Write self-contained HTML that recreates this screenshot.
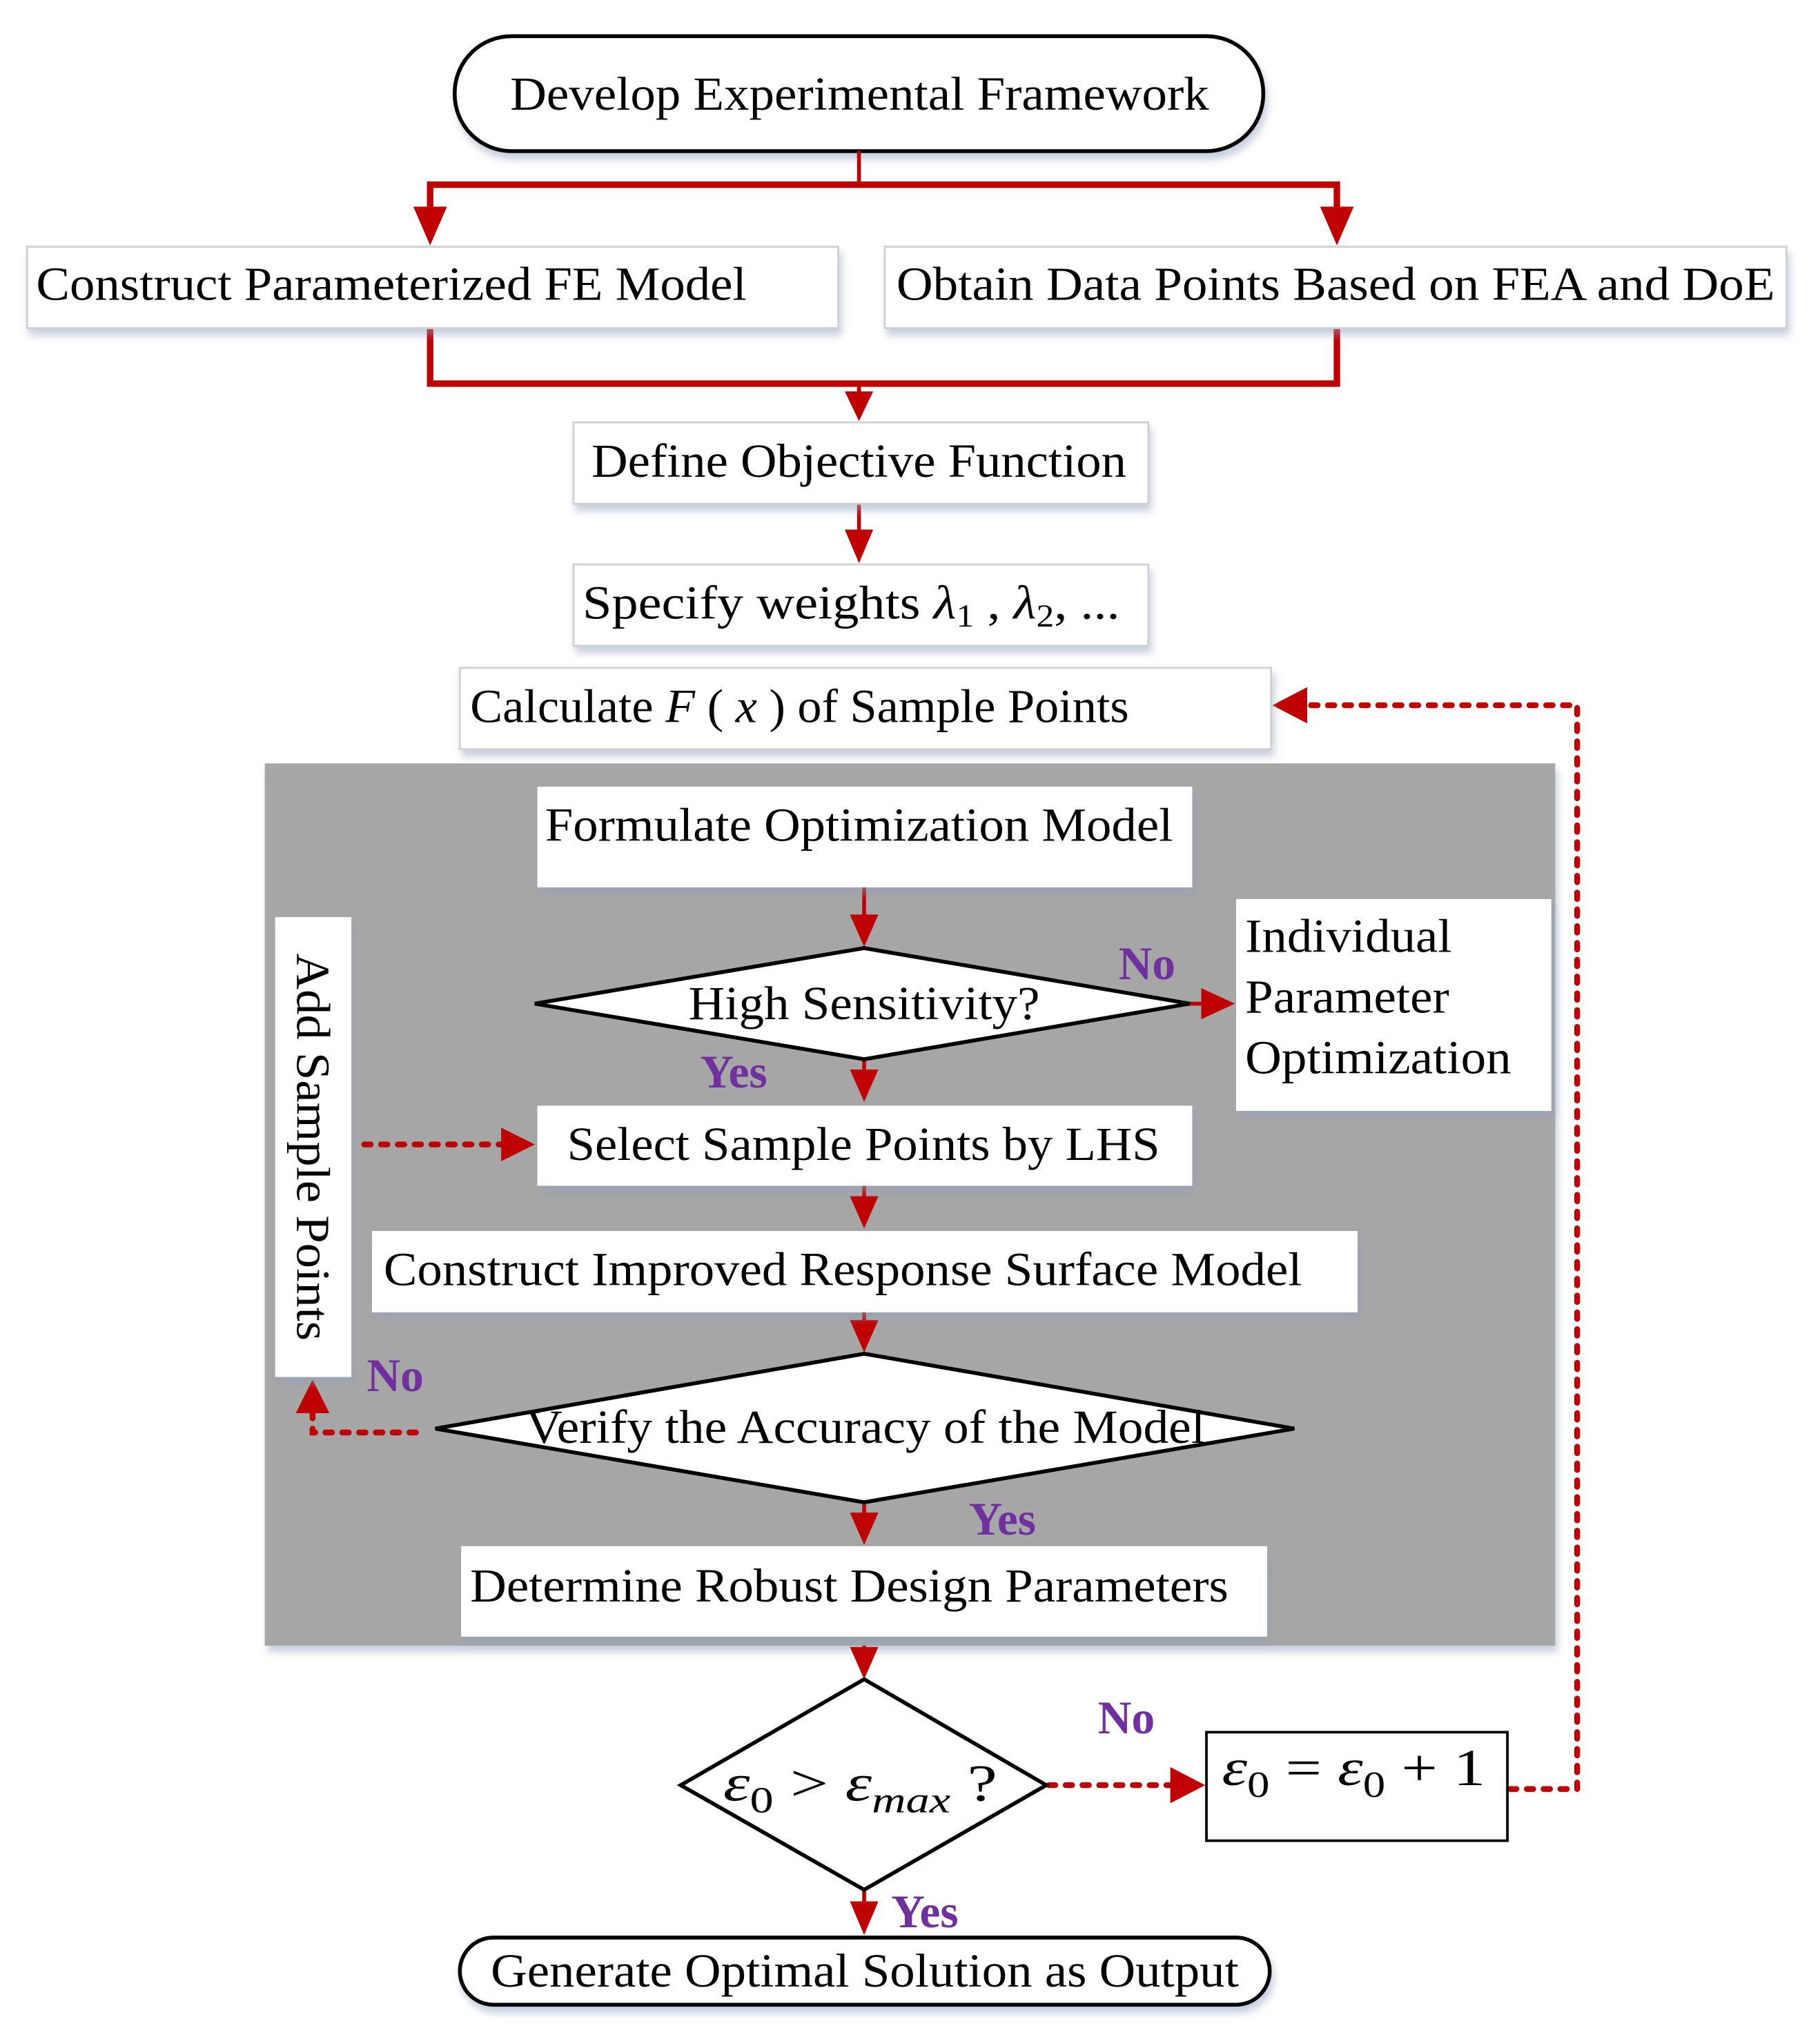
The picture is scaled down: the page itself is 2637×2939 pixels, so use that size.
<!DOCTYPE html>
<html><head><meta charset="utf-8"><style>
html,body{margin:0;padding:0;background:#fff}
svg{display:block}
text{font-family:"Liberation Serif",serif;fill:#000}
.p{fill:#7030a0;font-weight:bold;font-size:36px}
</style></head><body>
<svg width="2637" height="2939" viewBox="0 0 1409 1570" preserveAspectRatio="none" xmlns="http://www.w3.org/2000/svg">
<defs>
<filter id="s" x="-5%" y="-10%" width="115%" height="140%"><feDropShadow dx="2" dy="5" stdDeviation="3" flood-color="#8ea0c0" flood-opacity="0.5"/></filter>
</defs>
<rect x="205" y="591" width="999" height="683" fill="#a6a6a6" filter="url(#s)"/>

<rect x="352" y="28" width="626" height="89" rx="44" fill="#fff" stroke="#000" stroke-width="3" filter="url(#s)"/>
<text x="395" y="85" font-size="37" textLength="541" lengthAdjust="spacingAndGlyphs">Develop Experimental Framework</text>

<g stroke="#c00000" fill="none">
<line x1="665" y1="117" x2="665" y2="143" stroke-width="3"/>
<polyline points="333,166 333,143 1035,143 1035,166" stroke-width="5"/>
<polyline points="333,254 333,297 1035,297 1035,254" stroke-width="5"/>
<line x1="665" y1="297" x2="665" y2="310" stroke-width="3"/>
<line x1="665" y1="390" x2="665" y2="420" stroke-width="3"/>
<line x1="669" y1="687" x2="669" y2="718" stroke-width="3"/>
<line x1="921" y1="777" x2="940" y2="777" stroke-width="3"/>
<line x1="669" y1="820" x2="669" y2="838" stroke-width="3"/>
<line x1="669" y1="918" x2="669" y2="935" stroke-width="3"/>
<line x1="669" y1="1016" x2="669" y2="1032" stroke-width="3"/>
<line x1="669" y1="1163" x2="669" y2="1180" stroke-width="3"/>
<line x1="669" y1="1274" x2="669" y2="1285" stroke-width="3"/>
<line x1="669" y1="1463" x2="669" y2="1482" stroke-width="3"/>
<g stroke-width="4.5" stroke-dasharray="5,8" stroke-linecap="round">
<line x1="282" y1="886" x2="395" y2="886"/>
<polyline points="322,1109 242,1109 242,1088"/>
<line x1="812" y1="1382" x2="912" y2="1382"/>
<polyline points="1169,1385 1221,1385 1221,546 1008,546"/>
</g>
</g>
<g fill="#c00000">
<path d="M320,160 L346,160 L333,190 Z"/>
<path d="M1022,160 L1048,160 L1035,190 Z"/>
<path d="M654,303 L676,303 L665,326 Z"/>
<path d="M654,410 L676,410 L665,436 Z"/>
<path d="M658,708 L680,708 L669,733 Z"/>
<path d="M930,765 L930,789 L956,777 Z"/>
<path d="M658,828 L680,828 L669,853 Z"/>
<path d="M388,873 L388,899 L414,886 Z"/>
<path d="M658,926 L680,926 L669,951 Z"/>
<path d="M658,1022 L680,1022 L669,1047 Z"/>
<path d="M229,1094 L255,1094 L242,1068 Z"/>
<path d="M658,1171 L680,1171 L669,1196 Z"/>
<path d="M658,1275 L680,1275 L669,1300 Z"/>
<path d="M906,1368 L906,1396 L933,1382 Z"/>
<path d="M1012,532 L1012,560 L985,546 Z"/>
<path d="M658,1472 L680,1472 L669,1498 Z"/>
</g>

<g fill="#fff" stroke="#d0d0d0" stroke-width="1.5" filter="url(#s)">
<rect x="21" y="191" width="628" height="63"/>
<rect x="685" y="191" width="698" height="63"/>
<rect x="444" y="327" width="445" height="63"/>
<rect x="444" y="437" width="445" height="63"/>
<rect x="356" y="517" width="628" height="63"/>
<rect x="416" y="609" width="507" height="78" stroke="none"/>
<rect x="957" y="696" width="244" height="164" stroke="none"/>
<rect x="416" y="856" width="507" height="62" stroke="none"/>
<rect x="213" y="710" width="59" height="356" stroke="none"/>
<rect x="288" y="953" width="763" height="63" stroke="none"/>
<rect x="357" y="1197" width="624" height="70" stroke="none"/>
</g>
<polygon points="414,777 669,734 921,777 669,820" fill="#fff" stroke="#000" stroke-width="3"/>
<polygon points="337,1106 669,1048 1002,1106 669,1163" fill="#fff" stroke="#000" stroke-width="3"/>
<polygon points="527,1382 669,1300 810,1382 669,1463" fill="#fff" stroke="#000" stroke-width="3"/>
<rect x="934" y="1341" width="233" height="84" fill="#fff" stroke="#000" stroke-width="2"/>
<rect x="356" y="1500" width="627" height="52" rx="26" fill="#fff" stroke="#000" stroke-width="3" filter="url(#s)"/>

<g font-size="37">
<text x="28" y="232" textLength="550" lengthAdjust="spacingAndGlyphs">Construct Parameterized FE Model</text>
<text x="694" y="232" textLength="680" lengthAdjust="spacingAndGlyphs">Obtain Data Points Based on FEA and DoE</text>
<text x="458" y="369" textLength="414" lengthAdjust="spacingAndGlyphs">Define Objective Function</text>
<text x="451" y="479" textLength="416" lengthAdjust="spacingAndGlyphs">Specify weights <tspan font-style="italic">λ</tspan><tspan font-size="25" dy="6">1</tspan><tspan dy="-6"> , </tspan><tspan font-style="italic">λ</tspan><tspan font-size="25" dy="6">2</tspan><tspan dy="-6">, ...</tspan></text>
<text x="364" y="559" textLength="510" lengthAdjust="spacingAndGlyphs">Calculate <tspan font-style="italic">F</tspan> ( <tspan font-style="italic">x</tspan> ) of Sample Points</text>
<text x="422" y="651" textLength="486" lengthAdjust="spacingAndGlyphs">Formulate Optimization Model</text>
<text x="533" y="789" textLength="272" lengthAdjust="spacingAndGlyphs">High Sensitivity?</text>
<text x="964" y="737" textLength="160" lengthAdjust="spacingAndGlyphs">Individual</text>
<text x="964" y="784" textLength="158" lengthAdjust="spacingAndGlyphs">Parameter</text>
<text x="964" y="831" textLength="206" lengthAdjust="spacingAndGlyphs">Optimization</text>
<text x="439" y="898" textLength="459" lengthAdjust="spacingAndGlyphs">Select Sample Points by LHS</text>
<text x="297" y="995" textLength="711" lengthAdjust="spacingAndGlyphs">Construct Improved Response Surface Model</text>
<text x="407" y="1117" textLength="526" lengthAdjust="spacingAndGlyphs">Verify the Accuracy of the Model</text>
<text x="364" y="1240" textLength="587" lengthAdjust="spacingAndGlyphs">Determine Robust Design Parameters</text>
<text x="380" y="1538" textLength="579" lengthAdjust="spacingAndGlyphs">Generate Optimal Solution as Output</text>
<text transform="translate(230,738) rotate(90)" textLength="300" lengthAdjust="spacingAndGlyphs">Add Sample Points</text>
<text x="560" y="1394" font-family="DejaVu Serif, serif" font-size="40" font-style="italic" textLength="212" lengthAdjust="spacingAndGlyphs">ε<tspan font-size="28" dy="9" font-style="normal">0</tspan><tspan dy="-9" font-style="normal"> &gt; </tspan>ε<tspan font-size="28" dy="9">max</tspan><tspan dy="-9" font-style="normal">  ?</tspan></text>
<text x="946" y="1382" font-family="DejaVu Serif, serif" font-size="40" textLength="204" lengthAdjust="spacingAndGlyphs"><tspan font-style="italic">ε</tspan><tspan font-size="28" dy="9">0</tspan><tspan dy="-9"> = </tspan><tspan font-style="italic">ε</tspan><tspan font-size="28" dy="9">0</tspan><tspan dy="-9"> + 1</tspan></text>
</g>
<text class="p" x="866" y="758">No</text>
<text class="p" x="542" y="842">Yes</text>
<text class="p" x="284" y="1077">No</text>
<text class="p" x="750" y="1188">Yes</text>
<text class="p" x="850" y="1342">No</text>
<text class="p" x="690" y="1492">Yes</text>
</svg>
</body></html>
